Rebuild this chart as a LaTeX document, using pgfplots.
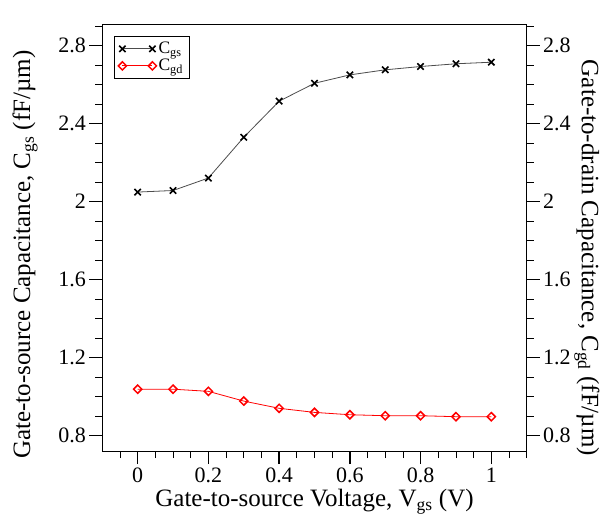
\documentclass[border=0pt]{standalone}
\usepackage{fontspec}
\setmainfont{Liberation Serif}
\usepackage{pgfplots}
\pgfplotsset{compat=1.18}

\pgfplotsset{
  capstyle/.style={
    width=424.4pt, height=427pt, scale only axis,
    xmin=-0.1, xmax=1.1, ymin=0.72, ymax=2.91,
    /pgf/number format/assume math mode=true,
    tick label style={font=\fontsize{22}{24}\selectfont},
    label style={font=\fontsize{25}{28}\selectfont},
    tick align=outside,
    ytick={0.8,1.2,...,2.81},
    yticklabels={0.8,1.2,1.6,2,2.4,2.8},
    minor ytick={0.8,0.9,...,2.91},
    major tick length=13pt, minor tick length=7pt,
    major tick style={line width=1.3pt, black},
    minor tick style={line width=0.7pt, black},
    axis line style={line width=0.8pt},
  },
  cgd/.style={red, line width=0.8pt, mark=square, mark size=2.9pt,
    mark options={red, line width=1.5pt, fill=white, rotate=45}},
}

\begin{document}
\begin{tikzpicture}
\useasboundingbox (-102.3pt,-69pt) rectangle (505.7pt,451pt);
\begin{axis}[
  capstyle,
  xtick={0,0.2,0.4,0.6,0.8,1},
  xticklabels={0,0.2,0.4,0.6,0.8,1},
  minor xtick={-0.05,0.05,0.1,0.15,0.25,0.3,0.35,0.45,0.5,0.55,0.65,0.7,0.75,0.85,0.9,0.95,1.05,1.1},
  xtick pos=bottom, ytick pos=left,
  xlabel={Gate-to-source Voltage, V\textsubscript{gs} (V)},
  ylabel={Gate-to-source Capacitance, C\textsubscript{gs} (fF/µm)},
  xlabel style={at={(axis description cs:0.5,-0.119)}, anchor=center},
  ylabel style={at={(axis description cs:-0.182,0.46)}, anchor=center},
  legend style={at={(axis description cs:0.0276,0.972)}, anchor=north west,
    font=\fontsize{17.5}{19}\selectfont, draw=black, line width=0.6pt,
    inner xsep=4pt, inner ysep=4pt, row sep=0pt, cells={anchor=west}},
  legend image code/.code={\draw[mark repeat=2, mark phase=1, #1]
    plot coordinates {(0pt,0pt) (15pt,0pt) (30pt,0pt)};},
]
\addplot[black!70, line width=0.8pt, mark=x, mark size=4.5pt,
  mark options={black, line width=1.6pt}] coordinates {
  (0,2.048) (0.1,2.056) (0.2,2.120) (0.3,2.329) (0.4,2.514) (0.5,2.606)
  (0.6,2.649) (0.7,2.675) (0.8,2.692) (0.9,2.706) (1.0,2.714)
};
\addlegendentry{C\textsubscript{gs}}
\addlegendimage{cgd}
\addlegendentry{C\textsubscript{gd}}
\end{axis}
\begin{axis}[
  capstyle,
  axis x line=none, axis y line*=right,
  ylabel={Gate-to-drain Capacitance, C\textsubscript{gd} (fF/µm)},
  ylabel style={at={(axis description cs:1.142,0.452)}, anchor=center, rotate=180},
]
\addplot[cgd] coordinates {
  (0,1.037) (0.1,1.037) (0.2,1.026) (0.3,0.976) (0.4,0.939) (0.5,0.918)
  (0.6,0.906) (0.7,0.901) (0.8,0.901) (0.9,0.896) (1.0,0.896)
};
\end{axis}
\end{tikzpicture}
\end{document}
